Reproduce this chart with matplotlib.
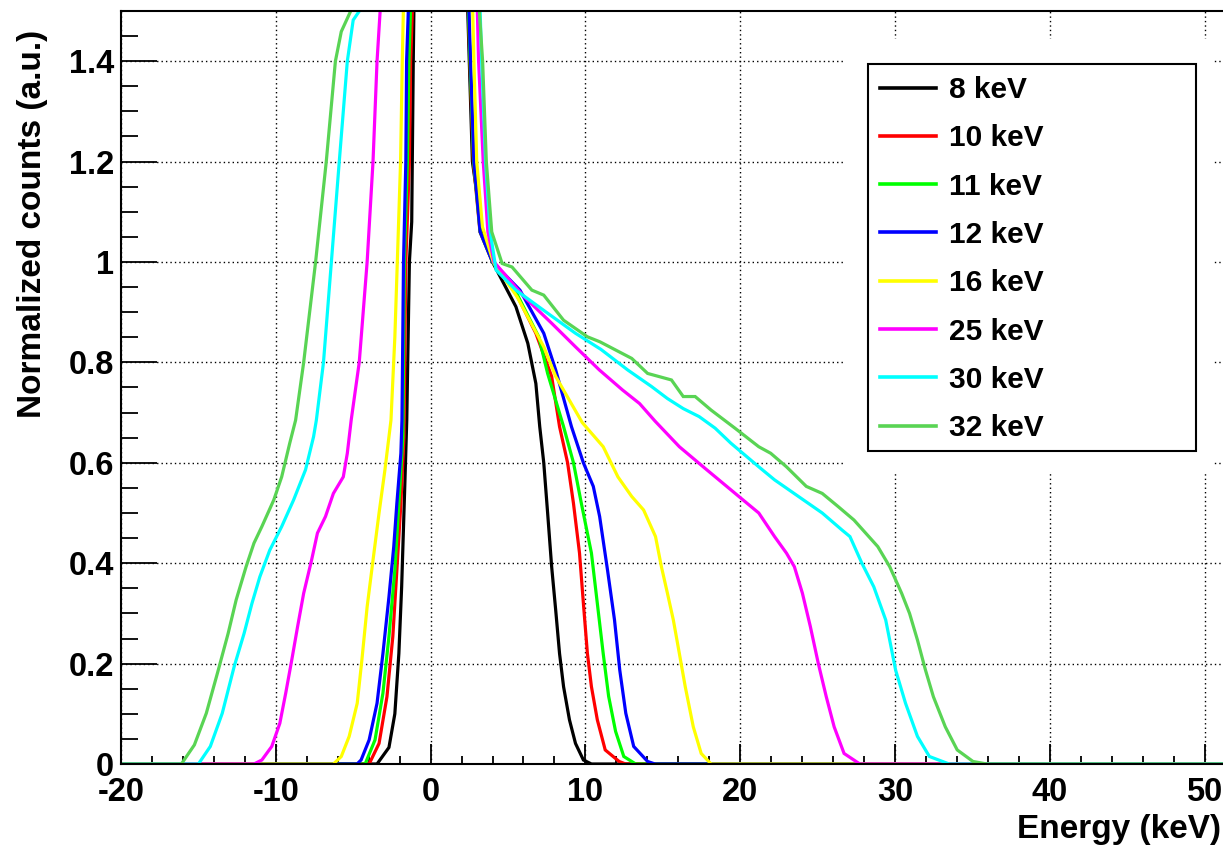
import matplotlib
matplotlib.use("Agg")
import matplotlib.pyplot as plt
from matplotlib.ticker import MultipleLocator, FuncFormatter
from matplotlib.patches import Rectangle

plt.rcParams['font.family'] = ['Liberation Sans', 'DejaVu Sans']
plt.rcParams['font.weight'] = 'bold'

# ---------------- data ----------------
labels = ["8 keV", "10 keV", "11 keV", "12 keV", "16 keV", "25 keV", "30 keV", "32 keV"]
colors = ["#000000", "#ff0000", "#00ff00", "#0000ff", "#ffff00", "#ff00ff", "#00ffff", "#59d454"]

# the peak is far above the visible range (off the chart)
peak_x = 0.5
peak_y = 6.0

e8_x = [-20, -3.46, -2.69, -2.31, -2.05, -1.87, -1.67, -1.54, -1.37, -1.22, -1.12, -1.08,
        2.40, 2.50, 2.70, 3.30, 4.00, 4.49, 5.51, 6.28, 6.80, 7.05, 7.31, 7.56, 7.82, 8.08,
        8.33, 8.59, 8.97, 9.36, 9.87, 10.39, 52]
e8_y = [0, 0, 0.033, 0.100, 0.220, 0.353, 0.552, 0.685, 1.00, 1.08, 1.40, 1.50,
        1.50, 1.40, 1.20, 1.07, 1.00, 0.971, 0.911, 0.838, 0.758, 0.672, 0.600, 0.500, 0.393, 0.307,
        0.220, 0.154, 0.088, 0.041, 0.008, 0, 0]

e10_x = [-20, -3.97, -3.33, -2.82, -2.44, -2.18, -1.92, -1.72, -1.60, -1.37, -1.29, -1.18,
         2.44, 2.54, 2.76, 3.19, 4.00, 5.51, 6.80, 7.82, 8.33, 8.85, 9.23, 9.62, 9.87, 10.13,
         10.39, 10.77, 11.28, 12.18, 12.60, 52]
e10_y = [0, 0, 0.041, 0.134, 0.254, 0.386, 0.519, 0.652, 1.00, 1.20, 1.40, 1.50,
         1.50, 1.40, 1.20, 1.06, 1.00, 0.938, 0.858, 0.772, 0.672, 0.600, 0.519, 0.420, 0.320, 0.220,
         0.154, 0.088, 0.028, 0.005, 0, 0]

e11_x = [-20, -4.23, -3.59, -3.08, -2.69, -2.31, -2.05, -1.79, -1.70, -1.50, -1.40, -1.30,
         2.45, 2.55, 2.78, 3.20, 4.00, 5.60, 7.00, 7.56, 8.59, 9.23, 9.74, 10.39, 10.77, 11.15,
         11.50, 11.95, 12.48, 13.25, 52]
e11_y = [0, 0, 0.048, 0.141, 0.254, 0.386, 0.519, 0.652, 1.00, 1.20, 1.40, 1.50,
         1.50, 1.40, 1.20, 1.06, 1.00, 0.935, 0.850, 0.778, 0.672, 0.600, 0.519, 0.420, 0.320, 0.220,
         0.135, 0.065, 0.015, 0, 0]

e12_x = [-20, -4.75, -4.49, -3.97, -3.46, -3.08, -2.69, -2.38, -2.18, -1.92, -1.85, -1.75, -1.60,
         -1.55, -1.44, 2.48, 2.58, 2.80, 3.20, 4.00, 5.77, 7.31, 8.08, 9.10, 9.87, 10.51, 10.92,
         11.43, 11.88, 12.22, 12.61, 13.12, 14.02, 14.50, 52]
e12_y = [0, 0, 0.008, 0.048, 0.121, 0.220, 0.333, 0.433, 0.519, 0.619, 0.685, 1.00, 1.20,
         1.40, 1.50, 1.50, 1.40, 1.20, 1.06, 1.00, 0.944, 0.858, 0.785, 0.672, 0.600, 0.553, 0.493,
         0.386, 0.287, 0.187, 0.101, 0.035, 0.005, 0, 0]

e16_x = [-20, -6.28, -5.77, -5.26, -4.74, -4.44, -4.10, -3.72, -3.33, -2.95, -2.56, -2.31,
         -2.15, -1.94, -1.83, -1.76, 2.72, 2.80, 2.98, 3.35, 4.05, 5.60, 7.31, 8.08, 9.80, 11.15,
         12.10, 12.99, 13.76, 14.53, 14.91, 15.30, 15.68, 16.07, 16.45, 16.97, 17.48, 18.12, 52]
e16_y = [0, 0, 0.015, 0.055, 0.121, 0.207, 0.313, 0.406, 0.500, 0.586, 0.685, 0.850,
         1.00, 1.20, 1.40, 1.50, 1.50, 1.40, 1.20, 1.07, 1.00, 0.930, 0.831, 0.772, 0.680, 0.632,
         0.572, 0.533, 0.506, 0.453, 0.393, 0.340, 0.287, 0.220, 0.154, 0.074, 0.021, 0, 0]

e25_x = [-20, -11.41, -10.90, -10.26, -9.74, -9.36, -8.97, -8.59, -8.20, -7.69, -7.31, -6.79,
         -6.28, -5.64, -5.38, -5.13, -4.61, -4.10, -3.72, -3.46, -3.26,
         3.02, 3.10, 3.40, 3.70, 4.10, 6.03, 7.82, 9.36, 10.90, 12.40, 13.50, 14.50, 16.07, 17.61,
         19.91, 21.20, 22.22, 22.99, 23.50, 24.02, 24.53, 25.04, 25.56, 26.07, 26.71, 27.73, 52]
e25_y = [0, 0, 0.008, 0.035, 0.081, 0.141, 0.207, 0.274, 0.340, 0.406, 0.460, 0.493,
         0.539, 0.572, 0.619, 0.685, 0.800, 1.00, 1.20, 1.40, 1.50,
         1.50, 1.40, 1.20, 1.06, 1.00, 0.931, 0.878, 0.831, 0.785, 0.745, 0.718, 0.683, 0.632, 0.592,
         0.533, 0.500, 0.453, 0.420, 0.393, 0.340, 0.274, 0.201, 0.134, 0.074, 0.021, 0, 0]

e30_x = [-20, -15.00, -14.23, -13.46, -12.69, -12.05, -11.54, -11.03, -10.39, -9.62, -8.85,
         -8.08, -7.56, -7.38, -6.92, -6.41, -5.90, -5.38, -5.00, -4.49,
         3.20, 3.30, 3.55, 3.85, 4.23, 5.51, 7.56, 9.36, 11.00, 12.73, 14.27, 15.30, 16.32, 17.35,
         18.38, 19.40, 21.20, 22.22, 23.76, 25.30, 26.58, 27.09, 27.86, 28.63, 29.40, 30.04,
         30.68, 31.45, 32.22, 33.50, 52]
e30_y = [0, 0, 0.035, 0.101, 0.194, 0.260, 0.320, 0.373, 0.426, 0.473, 0.526,
         0.586, 0.652, 0.685, 0.800, 1.00, 1.20, 1.40, 1.482, 1.505,
         1.50, 1.40, 1.20, 1.06, 0.984, 0.944, 0.898, 0.858, 0.826, 0.785, 0.752, 0.728, 0.708, 0.692,
         0.669, 0.639, 0.592, 0.566, 0.533, 0.500, 0.466, 0.453, 0.400, 0.353, 0.287, 0.187,
         0.121, 0.055, 0.015, 0, 0]

e32_x = [-20, -16.10, -15.26, -14.49, -13.77, -13.08, -12.56, -11.92, -11.41, -10.90, -10.13,
         -9.62, -9.10, -8.72, -8.20, -7.43, -6.74, -6.15, -5.77, -5.13,
         3.15, 3.36, 3.60, 3.95, 4.62, 5.26, 6.54, 7.31, 8.59, 10.13, 10.94, 12.99, 14.02, 15.56,
         16.32, 17.09, 18.12, 19.66, 21.20, 21.97, 22.99, 24.27, 25.30, 26.32, 27.35, 28.89,
         29.66, 30.43, 30.94, 31.45, 31.97, 32.48, 33.25, 34.02, 35.04, 35.94, 52]
e32_y = [0, 0, 0.038, 0.101, 0.181, 0.260, 0.327, 0.393, 0.440, 0.473, 0.526,
         0.572, 0.639, 0.685, 0.800, 1.00, 1.20, 1.40, 1.459, 1.502,
         1.50, 1.40, 1.20, 1.06, 0.997, 0.990, 0.944, 0.934, 0.884, 0.851, 0.841, 0.808, 0.778, 0.765,
         0.732, 0.732, 0.705, 0.669, 0.632, 0.619, 0.592, 0.553, 0.539, 0.513, 0.486, 0.433,
         0.393, 0.340, 0.300, 0.247, 0.187, 0.134, 0.074, 0.028, 0.005, 0, 0]

series_x = [e8_x, e10_x, e11_x, e12_x, e16_x, e25_x, e30_x, e32_x]
series_y = [e8_y, e10_y, e11_y, e12_y, e16_y, e25_y, e30_y, e32_y]

x_ticks = [-20, -10, 0, 10, 20, 30, 40, 50]
y_ticks = [0, 0.2, 0.4, 0.6, 0.8, 1.0, 1.2, 1.4]

# ---------------- figure ----------------
W, H = 1223, 847
fig = plt.figure(figsize=(W / 100, H / 100), dpi=100)
ax = fig.add_axes([121 / W, (H - 764) / H, (W - 121) / W, (764 - 11) / H])


def with_peak(xs, ys):
    # insert the (off-chart) peak between the rising and falling edges
    i = max(k for k, v in enumerate(xs) if v < 0.5)
    return xs[:i + 1] + [peak_x] + xs[i + 1:], ys[:i + 1] + [peak_y] + ys[i + 1:]


handles = []
for xs, ys, c, lab in zip(series_x, series_y, colors, labels):
    px, py = with_peak(xs, ys)
    h, = ax.plot(px, py, color=c, lw=2.3, label=lab, zorder=2, solid_joinstyle='miter')
    handles.append(h)

ax.set_xlim(-20, (W - 121) / 15.48 - 20)
ax.set_ylim(0, 1.5)

ax.set_xticks(x_ticks)
ax.set_yticks(y_ticks)
ax.xaxis.set_minor_locator(MultipleLocator(2))
ax.yaxis.set_minor_locator(MultipleLocator(0.05))
ax.xaxis.set_major_formatter(FuncFormatter(lambda v, p: "%g" % v))
ax.yaxis.set_major_formatter(FuncFormatter(lambda v, p: "%g" % v))

ax.tick_params(axis='both', which='both', direction='in', top=False, right=False,
               width=1.3, color='black')
ax.tick_params(axis='y', which='major', length=26, pad=5, labelsize=23.5)
ax.tick_params(axis='y', which='minor', length=12)
ax.tick_params(axis='x', which='major', length=14.4, pad=9, labelsize=23.5)
ax.tick_params(axis='x', which='minor', length=6)
for t in ax.get_xticklabels() + ax.get_yticklabels():
    t.set_fontweight('bold')

ax.spines['right'].set_visible(False)
for s in ['left', 'bottom', 'top']:
    ax.spines[s].set_linewidth(1.5)

ax.set_axisbelow(True)
ax.grid(which='major', color='black', linestyle=(0, (1, 2.2)), linewidth=1.0)

# white area around the legend hides the grid
ax.add_patch(Rectangle((844 / W, 1 - 472 / H), (1213 - 844) / W, (472 - 39) / H,
                       transform=fig.transFigure, facecolor='white', edgecolor='none',
                       zorder=1, clip_on=False))
ax.add_patch(Rectangle((868 / W, 1 - 451 / H), (1196 - 868) / W, (451 - 64) / H,
                       transform=fig.transFigure, facecolor='white', edgecolor='black',
                       linewidth=1.5, zorder=3, clip_on=False))

leg = ax.legend(handles, labels, loc='upper left', bbox_to_anchor=(880 / W, 1 - 76 / H),
                bbox_transform=fig.transFigure, frameon=False,
                prop={'weight': 'bold', 'size': 21.5}, handlelength=1.87, handletextpad=0.43,
                labelspacing=0.68, borderpad=0, borderaxespad=0)
leg.set_zorder(5)
for ln in leg.get_lines():
    ln.set_linewidth(2.6)

fig.text(33 / W, 1 - 30 / H, "Normalized counts (a.u.)", rotation=90, rotation_mode='anchor',
         ha='right', va='center', fontsize=24, fontweight='bold')
fig.text(1221 / W, 1 - 838 / H, "Energy (keV)", ha='right', va='baseline',
         fontsize=24, fontweight='bold')

fig.savefig("out.png", dpi=100)
